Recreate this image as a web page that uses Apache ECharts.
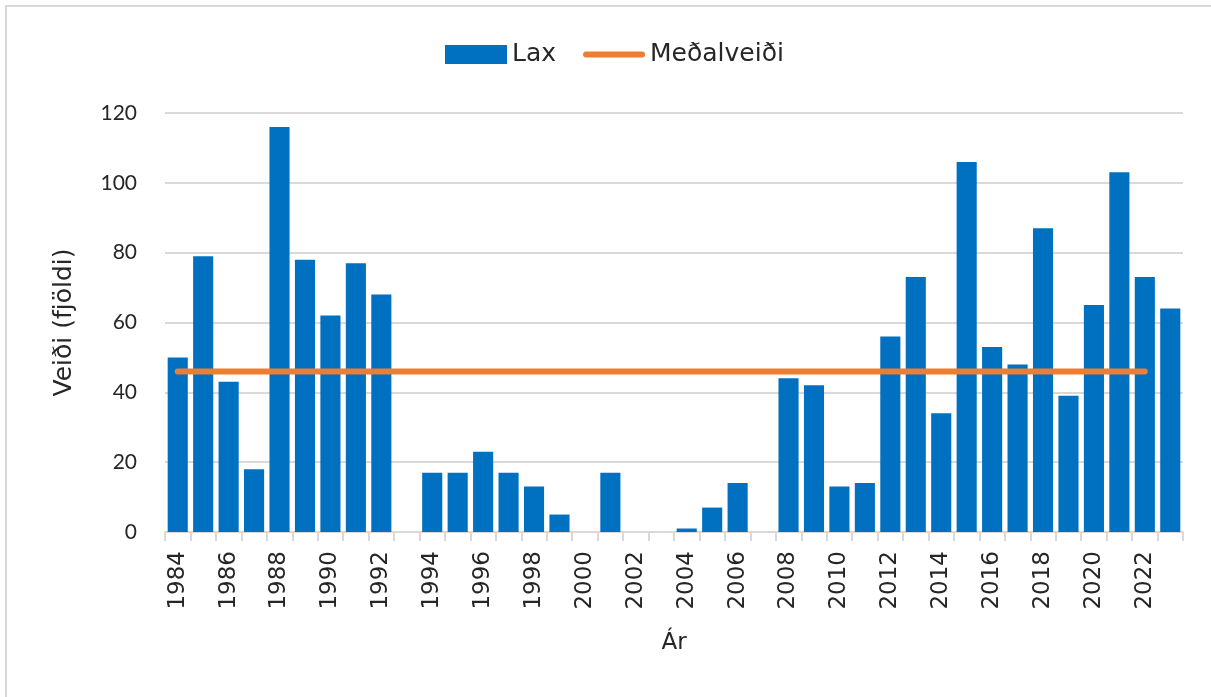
<!DOCTYPE html>
<html>
<head>
<meta charset="utf-8">
<script src="https://cdn.jsdelivr.net/npm/echarts@6/dist/echarts.min.js"></script>
<style>
    html, body { margin: 0; padding: 0; background: #fff; overflow: hidden; }
    #wrap { position: absolute; left: 5px; top: 5px; width: 1300px; height: 800px; border-top: 2px solid #d9d9d9; border-left: 2px solid #d9d9d9; }
    #chart { position: absolute; left: 0; top: 0; width: 1211px; height: 697px; }
</style>
</head>
<body>
<div id="wrap"></div>
<div id="chart"></div>
<script>
    // ár (flokkar)
    const years = []
    for (let y = 1984; y <= 2023; y++) years.push(String(y))

    // laxveiði á ári
    const lax = [
        50, 79, 43, 18, 116, 78, 62, 77, 68, 0,
        17, 17, 23, 17, 13, 5, 0, 17, 0, 0,
        1, 7, 14, 0, 44, 42, 13, 14, 56, 73,
        34, 106, 53, 48, 87, 39, 65, 103, 73, 64
    ]

    // meðalveiði, dregin frá 1984 til 2022
    const medalveidi = [
        46, 46, 46, 46, 46, 46, 46, 46, 46, 46,
        46, 46, 46, 46, 46, 46, 46, 46, 46, 46,
        46, 46, 46, 46, 46, 46, 46, 46, 46, 46,
        46, 46, 46, 46, 46, 46, 46, 46, 46, null
    ]

    const yTicks = [0, 20, 40, 60, 80, 100, 120]

    const dv = '"DejaVu Sans", sans-serif'
    const lato = 'Lato, "Open Sans", sans-serif'
    // lína í skýringu: þykk lína með rúnnuðum endum
    const lineIcon = 'path://M0,0 L0,0 M3,6.5 L59,6.5 A3,3 0 0 1 59,12.5 L3,12.5 A3,3 0 0 1 3,6.5 Z M62,19 L62,19'

    const chart = echarts.init(document.getElementById('chart'))
    chart.setOption({
        animation: false,
        legend: {
            top: 37,
            left: 440,
            itemWidth: 62,
            itemHeight: 19,
            itemGap: 27,
            textStyle: { fontSize: 25, color: '#262626', fontFamily: dv },
            data: [
                { name: 'Lax', icon: 'rect' },
                { name: 'Meðalveiði', icon: lineIcon, itemStyle: { color: '#ed7d31' } }
            ]
        },
        grid: { left: 165, right: 28, top: 113, bottom: 165 },
        xAxis: {
            type: 'category',
            data: years,
            name: 'Ár',
            nameLocation: 'middle',
            nameGap: 100,
            nameTextStyle: { fontSize: 23, color: '#262626', fontFamily: dv },
            axisLine: { lineStyle: { color: '#d9d9d9', width: 2 } },
            axisTick: { show: true, interval: 0, length: 9, lineStyle: { color: '#d9d9d9', width: 2 } },
            axisLabel: { interval: 1, rotate: 90, fontSize: 23, color: '#262626', margin: 19, fontFamily: dv }
        },
        yAxis: {
            type: 'value',
            min: yTicks[0],
            max: yTicks[yTicks.length - 1],
            interval: 20,
            name: 'Veiði (fjöldi)',
            nameLocation: 'middle',
            nameGap: 88,
            nameRotate: 90,
            nameTextStyle: { fontSize: 25, color: '#262626', fontFamily: dv },
            axisLine: { show: false },
            axisTick: { show: false },
            axisLabel: { fontSize: 21, color: '#262626', margin: 28, fontFamily: lato },
            splitLine: { lineStyle: { color: '#d9d9d9', width: 2 } }
        },
        series: [
            {
                name: 'Lax',
                type: 'bar',
                data: lax,
                barCategoryGap: '21%',
                itemStyle: { color: '#0070c0' }
            },
            {
                name: 'Meðalveiði',
                type: 'line',
                data: medalveidi,
                symbol: 'none',
                lineStyle: { color: '#ed7d31', width: 6, cap: 'round' },
                itemStyle: { color: '#ed7d31' }
            }
        ]
    })
</script>
</body>
</html>
